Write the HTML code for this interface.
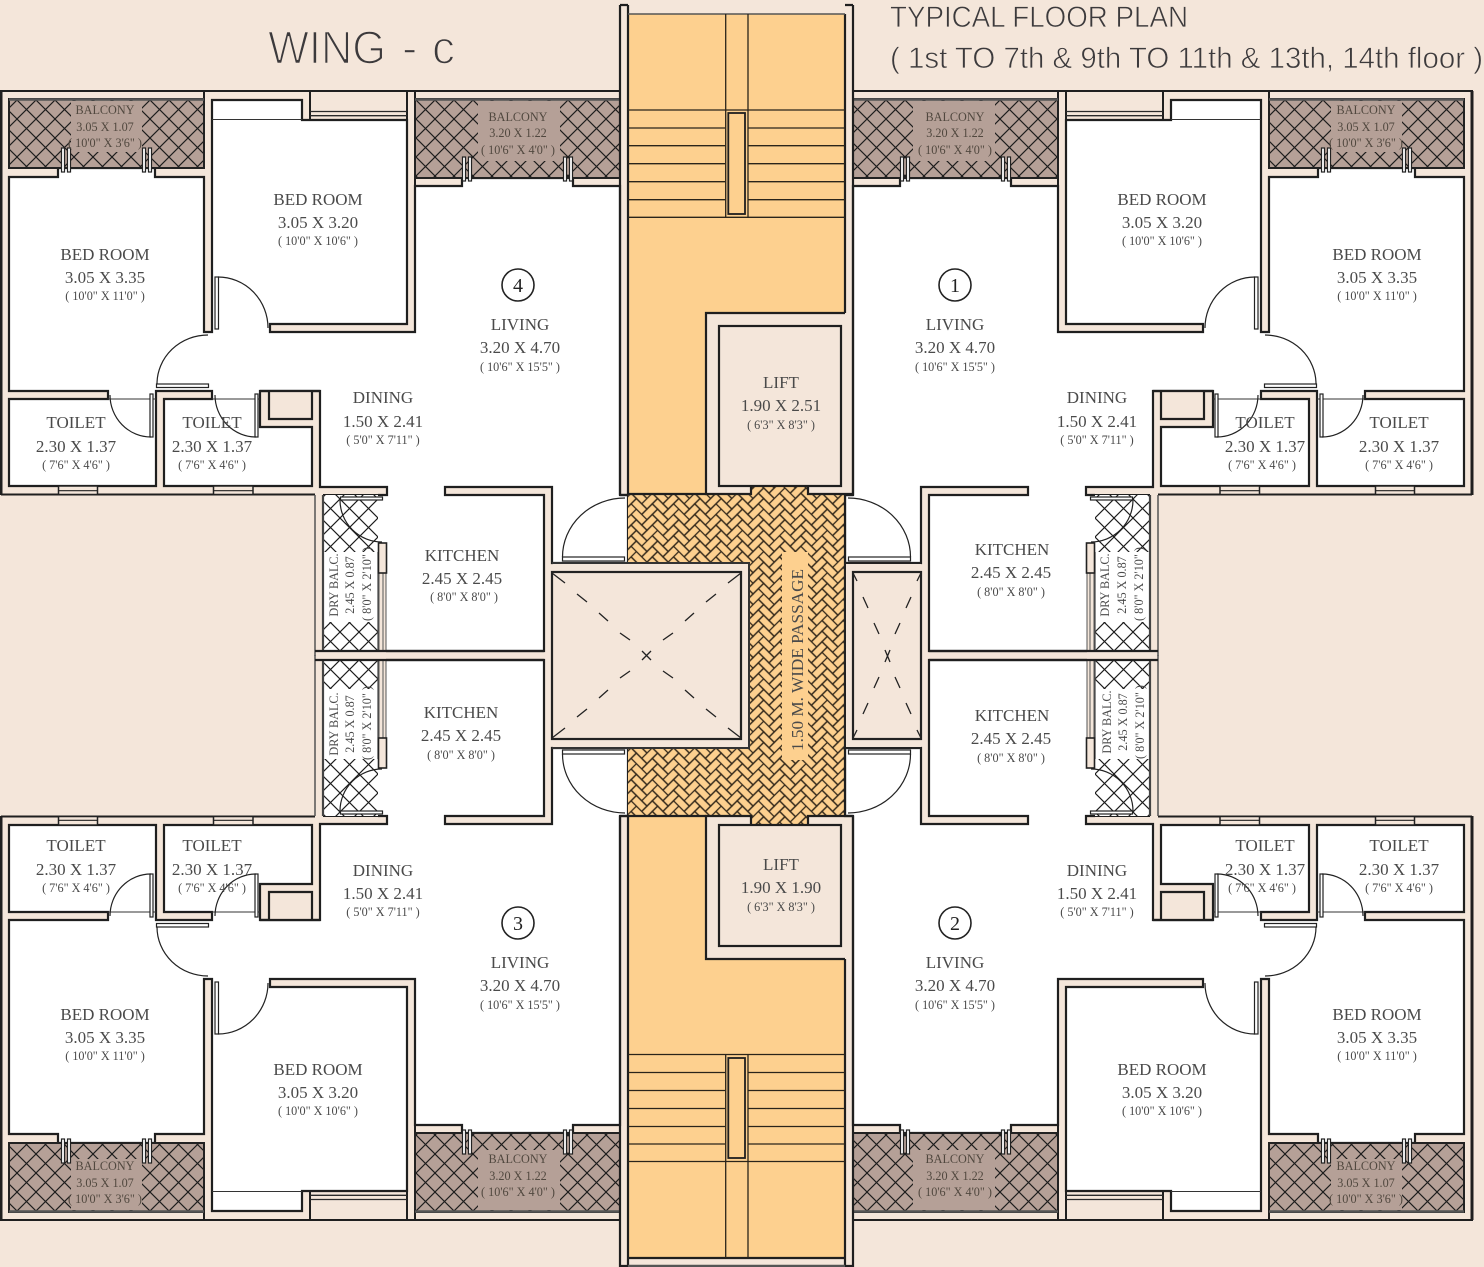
<!DOCTYPE html>
<html><head><meta charset="utf-8"><title>Wing C Typical Floor Plan</title>
<style>
html,body{margin:0;padding:0;background:#f4e6da}
svg{display:block}
text{font-family:"Liberation Serif",serif;fill:#4a4a4a;text-anchor:middle}
.n{font-size:17px}
.s{font-size:12.2px}
.b{font-size:12.2px;fill:#51483f}
.t{font-family:"Liberation Sans",sans-serif;text-anchor:start;fill:#3c3a3c;stroke:#f4e6da}
</style></head><body>
<svg xmlns="http://www.w3.org/2000/svg" width="1484" height="1267" viewBox="0 0 1484 1267">
<defs>
<pattern id="dia" width="19" height="19" patternUnits="userSpaceOnUse" patternTransform="translate(17,5)"><path d="M0,0L19,19M19,0L0,19" stroke="#1c1c1c" stroke-width="1.15" fill="none"/></pattern>
<pattern id="herr" width="30" height="30" patternUnits="userSpaceOnUse" patternTransform="rotate(45)">
<rect width="30" height="30" fill="#fdd08f"/>
<g transform="scale(7.5)" fill="none" stroke="#33281a" stroke-width=".17">
<rect x="0" y="0" width="2" height="1"/><rect x="2" y="-1" width="1" height="2"/><rect x="2" y="3" width="1" height="2"/>
<rect x="1" y="1" width="2" height="1"/><rect x="3" y="0" width="1" height="2"/>
<rect x="2" y="2" width="2" height="1"/><rect x="0" y="1" width="1" height="2"/>
<rect x="3" y="3" width="2" height="1"/><rect x="-1" y="3" width="2" height="1"/><rect x="1" y="2" width="1" height="2"/>
</g></pattern>
<g id="apt">
<path fill="#fff" d="M386,651L544,651L544,495L445,495L445,487L552,487L552,563L628,563L628,495L620,495L620,186L573,186L573,178L462,178L462,186L415,186L415,332L270,332L270,324L407,324L407,120L302,120L302,100L212,100L212,332L204,332L204,177L155,177L155,168L58,168L58,177L9,177L9,391L108,391L108,399L9,399L9,486L156,486L156,391L212,391L212,399L164,399L164,486L312,486L312,427L260,427L260,391L320,391L320,487L387,487L387,495L378,495L378,543L386,543Z"/>
<path fill="none" stroke="#1f1f1f" stroke-width="2.2" d="M386,651L544,651L544,495L445,495L445,487L552,487L552,563L628,563L628,495L620,495L620,186L573,186L573,178L462,178L462,186L415,186L415,332L270,332L270,324L407,324L407,120L302,120L302,100L212,100L212,332L204,332L204,177L155,177L155,168L58,168L58,177L9,177L9,391L108,391L108,399L9,399L9,486L156,486L156,391L212,391L212,399L164,399L164,486L312,486L312,427L260,427L260,391L320,391L320,487L387,487L387,495L378,495"/>
<!-- outer lines -->
<path fill="none" stroke="#1f1f1f" stroke-width="2" d="M1,495L1,91L620,91M1,494.5L315,494.5M323,495L323,651M323,495L378,495M204,91L204,99M310,91L310,120M407,91L407,120M415,91L415,99M415,178L415,186"/>
<path fill="none" stroke="#555" stroke-width="1.5" d="M315,495L315,656"/>
<path fill="none" stroke="#1f1f1f" stroke-width="3" d="M1,91L1,495"/>
<!-- balconies -->
<rect x="9" y="99" width="195" height="69" fill="#b5a097"/>
<rect x="9" y="99" width="195" height="69" fill="url(#dia)"/>
<rect x="71" y="101" width="71" height="51" fill="#b5a097"/>
<rect x="9" y="99" width="195" height="69" fill="none" stroke="#222" stroke-width="2"/>
<path d="M9,99.5L204,99.5" stroke="#555" stroke-width="2.5"/>
<rect x="415" y="99" width="205" height="79" fill="#b5a097"/>
<rect x="415" y="99" width="205" height="79" fill="url(#dia)"/>
<rect x="478" y="101" width="82" height="60" fill="#b5a097"/>
<rect x="415" y="99" width="205" height="79" fill="none" stroke="#222" stroke-width="2"/>
<path d="M415,99.5L620,99.5" stroke="#555" stroke-width="2.5"/>
<!-- balcony doors -->
<g fill="#fff" stroke="#222" stroke-width="1.2">
<rect x="61.5" y="148" width="3" height="24"/><rect x="67.5" y="148" width="3" height="24"/>
<rect x="142.5" y="148" width="3" height="24"/><rect x="148.5" y="148" width="3" height="24"/>
<rect x="462.5" y="157" width="3" height="24"/><rect x="468.5" y="157" width="3" height="24"/>
<rect x="563.5" y="157" width="3" height="24"/><rect x="569.5" y="157" width="3" height="24"/>
</g>
<!-- shaft -->
<path d="M269,391L269,419L312,419L312,391" fill="#f4e6da" stroke="#1f1f1f" stroke-width="2.2"/>
<path d="M260,391L320,391" stroke="#1f1f1f" stroke-width="2.2"/>
<!-- thin lines and windows -->
<path d="M212,119.5L302,119.5M108,399L156,399M212,399L260,399" stroke="#333" stroke-width="1.1" fill="none"/>
<path d="M310,111.5L407,111.5M310,115.7L407,115.7" stroke="#2a2a2a" stroke-width="1.3" fill="none"/>
<g fill="#f4e6da" stroke="#222" stroke-width="1.5">
<rect x="58.5" y="486" width="39" height="8.5"/><rect x="213.5" y="486" width="39.5" height="8.5"/>
</g>
<path d="M58,490.7L97,490.7M213,490.7L253,490.7" stroke="#222" stroke-width="1.1"/>
<!-- dry balcony -->
<rect x="323" y="495" width="55" height="156" fill="#fff"/>
<rect x="323" y="495" width="55" height="156" fill="url(#dia)"/>
<rect x="324" y="552" width="54" height="70" fill="#fff"/>
<path d="M323,495L323,651" stroke="#444" stroke-width="2.2"/>
<path d="M378,552L378,651" stroke="#444" stroke-width="1.2"/>
<rect x="379" y="573" width="7" height="78" fill="#f4e6da" stroke="#555" stroke-width="1"/>
<path d="M383,573L383,651" stroke="#555" stroke-width="1"/>
<rect x="378.5" y="543" width="8" height="30" fill="#f4e6da" stroke="#222" stroke-width="1.6"/>
<path d="M315,651L544,651" stroke="#1f1f1f" stroke-width="2.2"/>
<!-- doors -->
<g fill="#fff" stroke="#222" stroke-width="1.2">
<rect x="562.5" y="557" width="62" height="4"/>
<rect x="156.5" y="384" width="52" height="3.5"/>
<rect x="215" y="277" width="3.5" height="52"/>
<rect x="150" y="394" width="3" height="43"/>
<rect x="255" y="394" width="3" height="43"/>
<rect x="340.5" y="497" width="42" height="3"/>
</g>
<g fill="none" stroke="#222" stroke-width="1.2">
<path d="M562.5,557A62.5,59 0 0 1 625,498"/>
<path d="M157,384A51,49 0 0 1 208,335"/>
<path d="M218,277A50,51 0 0 1 268,328"/>
<path d="M110,395A41,42 0 0 0 151,437"/>
<path d="M215,395A41,42 0 0 0 256,437"/>
<path d="M340,500A42,42 0 0 0 382,542"/>
</g>
</g>
</defs>
<rect width="1484" height="1267" fill="#f4e6da"/>
<use href="#apt"/>
<use href="#apt" transform="translate(1473,0) scale(-1,1)"/>
<use href="#apt" transform="translate(0,1311) scale(1,-1)"/>
<use href="#apt" transform="translate(1473,1311) scale(-1,-1)"/>

<!-- central core -->
<path d="M628,14L845,14L845,313L706,313L706,494L628,494Z" fill="#fdd08f"/>
<path d="M628,816L706,816L706,959L845,959L845,1258L628,1258Z" fill="#fdd08f"/>
<path d="M628,494L751,494L751,487L808,487L808,494L845,494L845,816L808,816L808,824L751,824L751,816L628,816Z" fill="url(#herr)"/>
<rect x="782" y="552" width="26" height="208" fill="#fdd08f"/>
<g fill="none" stroke="#1f1f1f" stroke-width="2.2">
<path d="M620,5L620,495M628,5L628,495M845,14L845,313M853,5L853,495M620,5L628,5M845,5L853,5"/>
<path d="M620,816L620,1266L628,1266L628,816M853,816L853,1266L845,1266L845,959M620,495L628,495M845,495L853,495M620,816L628,816"/>
<path d="M628,494L706,494M628,816L706,816M845,494L845,816"/>
<path d="M628,1258L845,1258"/>
<path d="M845,313L706,313L706,494L751,494L751,487M808,487L808,494L853,494"/>
<path d="M751,824L751,816L706,816L706,959L845,959M808,824L808,816L853,816"/>
</g>
<path d="M628,14L845,14" stroke="#555" stroke-width="1.4"/>
<path d="M628,1266L845,1266" stroke="#555" stroke-width="2.5"/>
<rect x="719" y="326" width="122" height="160" fill="#f4e6da" stroke="#1f1f1f" stroke-width="2.2"/>
<rect x="719" y="825" width="122" height="121" fill="#f4e6da" stroke="#1f1f1f" stroke-width="2.2"/>
<!-- stairs top -->
<path d="M725.7,14L725.7,217M748,14L748,217M628,110L845,110M628,128L725,128M748,128L845,128M628,145.7L725,145.7M748,145.7L845,145.7M628,163.7L725,163.7M748,163.7L845,163.7M628,181.7L725,181.7M748,181.7L845,181.7M628,199.7L725,199.7M748,199.7L845,199.7M628,217.3L845,217.3" stroke="#2a241a" stroke-width="1.3" fill="none"/>
<rect x="728.3" y="113" width="16.7" height="101" fill="#fdd08f" stroke="#1f1f1f" stroke-width="1.8"/>
<!-- stairs bottom -->
<path d="M725.7,1054.5L725.7,1258M748,1054.5L748,1258M628,1054.5L845,1054.5M628,1072.5L725,1072.5M748,1072.5L845,1072.5M628,1090.5L725,1090.5M748,1090.5L845,1090.5M628,1108.5L725,1108.5M748,1108.5L845,1108.5M628,1126.5L725,1126.5M748,1126.5L845,1126.5M628,1144L725,1144M748,1144L845,1144M628,1161.5L845,1161.5" stroke="#2a241a" stroke-width="1.3" fill="none"/>
<rect x="728.3" y="1058" width="16.7" height="100" fill="#fdd08f" stroke="#1f1f1f" stroke-width="1.8"/>
<!-- left duct -->
<rect x="553" y="563" width="196" height="185" fill="#f4e6da"/>
<path d="M552,563L749,563L749,748L552,748" fill="none" stroke="#333" stroke-width="2"/>
<rect x="552" y="572" width="189" height="167" fill="#f4e6da" stroke="#222" stroke-width="2.2"/>
<path d="M552,573L565,583M577,594L587,602M599,613L608,621M620,633L630,640M741,573L728,583M716,594L706,602M694,613L685,621M673,633L663,640M552,738L565,728M577,717L587,709M599,698L608,690M620,678L630,671M741,738L728,728M716,717L706,709M694,698L685,690M673,678L663,671M642,651L651,660M651,651L642,660" stroke="#222" stroke-width="1.3" fill="none"/>
<!-- right duct -->
<rect x="846" y="564" width="75" height="183" fill="#f4e6da"/>
<path d="M845,563L921,563M845,748L921,748M845,563L845,748" fill="none" stroke="#222" stroke-width="2"/>
<rect x="853" y="572" width="68" height="167" fill="#f4e6da" stroke="#222" stroke-width="2.2"/>
<path d="M853,573L857,581M863,597L868,608M874,623L879,634M921,573L917,581M911,597L906,608M900,623L895,634M853,738L857,730M863,714L868,703M874,688L879,677M921,738L917,730M911,714L906,703M900,688L895,677M885,650L890,662M890,650L885,662" stroke="#222" stroke-width="1.3" fill="none"/>

<!-- titles -->
<text class="t" x="268" y="63.5" font-size="46" stroke-width="1.6" textLength="118" lengthAdjust="spacingAndGlyphs">WING</text>
<text class="t" x="402" y="63.5" font-size="46" stroke-width="1.6">-</text>
<text class="t" x="432" y="63.5" font-size="46" stroke-width="1.6">c</text>
<text class="t" x="890" y="27" font-size="30" stroke-width=".7" textLength="298" lengthAdjust="spacingAndGlyphs">TYPICAL FLOOR PLAN</text>
<text class="t" x="890" y="68" font-size="30" stroke-width=".7" textLength="593" lengthAdjust="spacingAndGlyphs">( 1st TO 7th &amp; 9th TO 11th &amp; 13th, 14th floor )</text>

<!-- balconies text -->
<text class="b" x="105" y="114">BALCONY</text><text class="b" x="105" y="131">3.05 X 1.07</text><text class="b" x="105" y="147">( 10'0" X 3'6" )</text>
<text class="b" x="518" y="121">BALCONY</text><text class="b" x="518" y="137">3.20 X 1.22</text><text class="b" x="518" y="154">( 10'6" X 4'0" )</text>
<text class="b" x="955" y="121">BALCONY</text><text class="b" x="955" y="137">3.20 X 1.22</text><text class="b" x="955" y="154">( 10'6" X 4'0" )</text>
<text class="b" x="1366" y="114">BALCONY</text><text class="b" x="1366" y="131">3.05 X 1.07</text><text class="b" x="1366" y="147">( 10'0" X 3'6" )</text>
<text class="b" x="105" y="1170">BALCONY</text><text class="b" x="105" y="1187">3.05 X 1.07</text><text class="b" x="105" y="1203">( 10'0" X 3'6" )</text>
<text class="b" x="518" y="1163">BALCONY</text><text class="b" x="518" y="1180">3.20 X 1.22</text><text class="b" x="518" y="1196">( 10'6" X 4'0" )</text>
<text class="b" x="955" y="1163">BALCONY</text><text class="b" x="955" y="1180">3.20 X 1.22</text><text class="b" x="955" y="1196">( 10'6" X 4'0" )</text>
<text class="b" x="1366" y="1170">BALCONY</text><text class="b" x="1366" y="1187">3.05 X 1.07</text><text class="b" x="1366" y="1203">( 10'0" X 3'6" )</text>

<!-- bed rooms -->
<text class="n" x="318" y="205">BED ROOM</text><text class="n" x="318" y="228">3.05 X 3.20</text><text class="s" x="318" y="245">( 10'0" X 10'6" )</text>
<text class="n" x="1162" y="205">BED ROOM</text><text class="n" x="1162" y="228">3.05 X 3.20</text><text class="s" x="1162" y="245">( 10'0" X 10'6" )</text>
<text class="n" x="105" y="260">BED ROOM</text><text class="n" x="105" y="283">3.05 X 3.35</text><text class="s" x="105" y="300">( 10'0" X 11'0" )</text>
<text class="n" x="1377" y="260">BED ROOM</text><text class="n" x="1377" y="283">3.05 X 3.35</text><text class="s" x="1377" y="300">( 10'0" X 11'0" )</text>
<text class="n" x="105" y="1020">BED ROOM</text><text class="n" x="105" y="1043">3.05 X 3.35</text><text class="s" x="105" y="1060">( 10'0" X 11'0" )</text>
<text class="n" x="1377" y="1020">BED ROOM</text><text class="n" x="1377" y="1043">3.05 X 3.35</text><text class="s" x="1377" y="1060">( 10'0" X 11'0" )</text>
<text class="n" x="318" y="1075">BED ROOM</text><text class="n" x="318" y="1098">3.05 X 3.20</text><text class="s" x="318" y="1115">( 10'0" X 10'6" )</text>
<text class="n" x="1162" y="1075">BED ROOM</text><text class="n" x="1162" y="1098">3.05 X 3.20</text><text class="s" x="1162" y="1115">( 10'0" X 10'6" )</text>

<!-- living -->
<text class="n" x="520" y="330">LIVING</text><text class="n" x="520" y="353">3.20 X 4.70</text><text class="s" x="520" y="371">( 10'6" X 15'5" )</text>
<text class="n" x="955" y="330">LIVING</text><text class="n" x="955" y="353">3.20 X 4.70</text><text class="s" x="955" y="371">( 10'6" X 15'5" )</text>
<text class="n" x="520" y="968">LIVING</text><text class="n" x="520" y="991">3.20 X 4.70</text><text class="s" x="520" y="1009">( 10'6" X 15'5" )</text>
<text class="n" x="955" y="968">LIVING</text><text class="n" x="955" y="991">3.20 X 4.70</text><text class="s" x="955" y="1009">( 10'6" X 15'5" )</text>

<!-- circles -->
<g fill="#fff" stroke="#222" stroke-width="1.6">
<circle cx="518" cy="285" r="16"/><circle cx="955" cy="285" r="16"/><circle cx="518" cy="923" r="16"/><circle cx="955" cy="923" r="16"/>
</g>
<text x="518" y="292" font-size="20" style="fill:#222">4</text><text x="955" y="292" font-size="20" style="fill:#222">1</text>
<text x="518" y="930" font-size="20" style="fill:#222">3</text><text x="955" y="930" font-size="20" style="fill:#222">2</text>

<!-- dining -->
<text class="n" x="383" y="403">DINING</text><text class="n" x="383" y="427">1.50 X 2.41</text><text class="s" x="383" y="444">( 5'0" X 7'11" )</text>
<text class="n" x="1097" y="403">DINING</text><text class="n" x="1097" y="427">1.50 X 2.41</text><text class="s" x="1097" y="444">( 5'0" X 7'11" )</text>
<text class="n" x="383" y="876">DINING</text><text class="n" x="383" y="899">1.50 X 2.41</text><text class="s" x="383" y="916">( 5'0" X 7'11" )</text>
<text class="n" x="1097" y="876">DINING</text><text class="n" x="1097" y="899">1.50 X 2.41</text><text class="s" x="1097" y="916">( 5'0" X 7'11" )</text>

<!-- toilets -->
<text class="n" x="76" y="428">TOILET</text><text class="n" x="76" y="452">2.30 X 1.37</text><text class="s" x="76" y="469">( 7'6" X 4'6" )</text>
<text class="n" x="212" y="428">TOILET</text><text class="n" x="212" y="452">2.30 X 1.37</text><text class="s" x="212" y="469">( 7'6" X 4'6" )</text>
<text class="n" x="1265" y="428">TOILET</text><text class="n" x="1265" y="452">2.30 X 1.37</text><text class="s" x="1262" y="469">( 7'6" X 4'6" )</text>
<text class="n" x="1399" y="428">TOILET</text><text class="n" x="1399" y="452">2.30 X 1.37</text><text class="s" x="1399" y="469">( 7'6" X 4'6" )</text>
<text class="n" x="76" y="851">TOILET</text><text class="n" x="76" y="875">2.30 X 1.37</text><text class="s" x="76" y="892">( 7'6" X 4'6" )</text>
<text class="n" x="212" y="851">TOILET</text><text class="n" x="212" y="875">2.30 X 1.37</text><text class="s" x="212" y="892">( 7'6" X 4'6" )</text>
<text class="n" x="1265" y="851">TOILET</text><text class="n" x="1265" y="875">2.30 X 1.37</text><text class="s" x="1262" y="892">( 7'6" X 4'6" )</text>
<text class="n" x="1399" y="851">TOILET</text><text class="n" x="1399" y="875">2.30 X 1.37</text><text class="s" x="1399" y="892">( 7'6" X 4'6" )</text>

<!-- lifts -->
<text class="n" x="781" y="388">LIFT</text><text class="n" x="781" y="411">1.90 X 2.51</text><text class="s" x="781" y="429">( 6'3" X 8'3" )</text>
<text class="n" x="781" y="870">LIFT</text><text class="n" x="781" y="893">1.90 X 1.90</text><text class="s" x="781" y="911">( 6'3" X 8'3" )</text>

<!-- kitchens -->
<text class="n" x="462" y="561">KITCHEN</text><text class="n" x="462" y="584">2.45 X 2.45</text><text class="s" x="464" y="601">( 8'0" X 8'0" )</text>
<text class="n" x="461" y="718">KITCHEN</text><text class="n" x="461" y="741">2.45 X 2.45</text><text class="s" x="461" y="759">( 8'0" X 8'0" )</text>
<text class="n" x="1012" y="555">KITCHEN</text><text class="n" x="1011" y="578">2.45 X 2.45</text><text class="s" x="1011" y="596">( 8'0" X 8'0" )</text>
<text class="n" x="1012" y="721">KITCHEN</text><text class="n" x="1011" y="744">2.45 X 2.45</text><text class="s" x="1011" y="762">( 8'0" X 8'0" )</text>

<!-- dry balconies -->
<text class="s" transform="translate(338,585) rotate(-90)">DRY BALC.</text><text class="s" transform="translate(354,585) rotate(-90)">2.45 X 0.87</text><text class="s" transform="translate(371,584) rotate(-90)">( 8'0" X 2'10" )</text>
<text class="s" transform="translate(338,724) rotate(-90)">DRY BALC.</text><text class="s" transform="translate(354,724) rotate(-90)">2.45 X 0.87</text><text class="s" transform="translate(371,723) rotate(-90)">( 8'0" X 2'10" )</text>
<text class="s" transform="translate(1109,585) rotate(-90)">DRY BALC.</text><text class="s" transform="translate(1126,585) rotate(-90)">2.45 X 0.87</text><text class="s" transform="translate(1143,584) rotate(-90)">( 8'0" X 2'10" )</text>
<text class="s" transform="translate(1111,722) rotate(-90)">DRY BALC.</text><text class="s" transform="translate(1127,722) rotate(-90)">2.45 X 0.87</text><text class="s" transform="translate(1144,722) rotate(-90)">( 8'0" X 2'10" )</text>

<text transform="translate(803,660) rotate(-90)" font-size="17" textLength="182" lengthAdjust="spacingAndGlyphs">1.50 M.  WIDE PASSAGE</text>
</svg>
</body></html>
